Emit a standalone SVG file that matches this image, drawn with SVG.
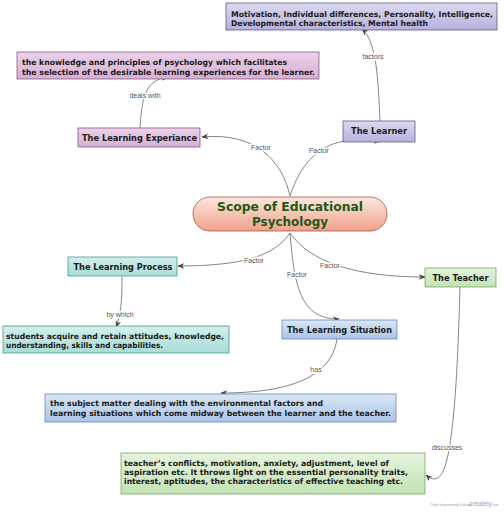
<svg xmlns="http://www.w3.org/2000/svg" width="504" height="512" viewBox="0 0 504 512">
<defs>
<linearGradient id="gPurple" x1="0" y1="0" x2="0" y2="1"><stop offset="0" stop-color="#dcdaf0"/><stop offset="1" stop-color="#b6b1dd"/></linearGradient>
<linearGradient id="gPink" x1="0" y1="0" x2="0" y2="1"><stop offset="0" stop-color="#ead2e8"/><stop offset="1" stop-color="#d6afd3"/></linearGradient>
<linearGradient id="gTeal" x1="0" y1="0" x2="0" y2="1"><stop offset="0" stop-color="#d3f0ec"/><stop offset="1" stop-color="#a9dcd6"/></linearGradient>
<linearGradient id="gBlue" x1="0" y1="0" x2="0" y2="1"><stop offset="0" stop-color="#dae7f6"/><stop offset="1" stop-color="#a9c4e8"/></linearGradient>
<linearGradient id="gGreen" x1="0" y1="0" x2="0" y2="1"><stop offset="0" stop-color="#e6f4de"/><stop offset="1" stop-color="#c2e2b3"/></linearGradient>
<linearGradient id="gCenter" x1="0" y1="0" x2="0" y2="1"><stop offset="0" stop-color="#fde6de"/><stop offset="1" stop-color="#f0a28c"/></linearGradient>
<marker id="arr" viewBox="0 0 10 10" refX="9" refY="5" markerWidth="7" markerHeight="7" markerUnits="userSpaceOnUse" orient="auto"><path d="M0,1 L10,5 L0,9 L3,5 Z" fill="#444"/></marker>
</defs>
<style>
.purple{fill:url(#gPurple);stroke:#5c5a8c;stroke-width:0.8}
.pink{fill:url(#gPink);stroke:#8c5a88;stroke-width:0.8}
.teal{fill:url(#gTeal);stroke:#4a9a94;stroke-width:0.8}
.blue{fill:url(#gBlue);stroke:#6a8ab8;stroke-width:0.8}
.green{fill:url(#gGreen);stroke:#7aa86a;stroke-width:0.8}
.title{font-family:"DejaVu Sans",Verdana,sans-serif;font-weight:bold;font-size:8.4px;fill:#1a1a1a;text-anchor:middle}
.body{font-family:"DejaVu Sans",Verdana,sans-serif;font-weight:bold;font-size:7.8px;fill:#1a1a1a}
.center{font-family:"DejaVu Sans",Verdana,sans-serif;font-weight:bold;font-size:12.5px;fill:#1e5a14;text-anchor:middle}
.conn{fill:none;stroke:#666;stroke-width:0.8;marker-end:url(#arr)}
.lbl{font-family:"Liberation Sans",Arial,sans-serif;font-size:7px;fill:#555;text-anchor:middle;stroke:#fff;stroke-width:3px;paint-order:stroke;stroke-linejoin:round}
</style>
<rect width="504" height="512" fill="#fff"/>
<g id="connectors">
<path class="conn" d="M290,196 C282,160 255,132 202,137"/>
<path class="conn" d="M290,196 C300,165 318,145 345,141 L380,141"/>
<path class="conn" d="M380,121 C378,80 377,42 362,29"/>
<path class="conn" d="M140,128 C142,95 146,80 168,77"/>
<path class="conn" d="M290,233 C275,255 245,266 178,266"/>
<path class="conn" d="M290,233 C294,280 298,320 339,319"/>
<path class="conn" d="M290,233 C310,262 355,277 425,277"/>
<path class="conn" d="M122,277 C122,300 121,315 116,327"/>
<path class="conn" d="M337,339 C332,372 300,393 221,393"/>
<path class="conn" d="M460,287 C458,360 455,420 448,455 C443,480 435,483 426,475"/>
<text class="lbl" x="261" y="150">Factor</text>
<text class="lbl" x="319" y="153">Factor</text>
<text class="lbl" x="373" y="59">factors</text>
<text class="lbl" x="145" y="98">deals with</text>
<text class="lbl" x="254" y="263">Factor</text>
<text class="lbl" x="297" y="277">Factor</text>
<text class="lbl" x="330" y="268">Factor</text>
<text class="lbl" x="120" y="317">by which</text>
<text class="lbl" x="316" y="372">has</text>
<text class="lbl" x="447" y="450">discusses</text>
</g>
<g id="node-factors">
<rect class="purple" x="226" y="3" width="271" height="27"/>
<text class="body" x="231" y="16.5" textLength="262" lengthAdjust="spacingAndGlyphs">Motivation, Individual differences, Personality, Intelligence,</text>
<text class="body" x="231" y="25.5" textLength="197" lengthAdjust="spacingAndGlyphs">Developmental characteristics, Mental health</text>
</g>
<g id="node-knowledge">
<rect class="pink" x="17" y="52" width="302" height="27"/>
<text class="body" x="22" y="65" textLength="265" lengthAdjust="spacingAndGlyphs">the knowledge and principles of psychology which facilitates</text>
<text class="body" x="22" y="75" textLength="293" lengthAdjust="spacingAndGlyphs">the selection of the desirable learning experiences for the learner.</text>
</g>
<g id="node-learning-experiance">
<rect class="pink" x="78" y="128" width="122" height="19"/>
<text class="title" x="139.5" y="140.5" textLength="115" lengthAdjust="spacingAndGlyphs">The Learning Experiance</text>
</g>
<g id="node-learner">
<rect class="purple" x="343" y="121" width="72" height="21"/>
<text class="title" x="379" y="134" textLength="56" lengthAdjust="spacingAndGlyphs">The Learner</text>
</g>
<g id="node-center">
<rect x="193" y="197" width="194" height="34" rx="17" ry="17" fill="url(#gCenter)" stroke="#b0504a" stroke-width="0.8"/>
<text class="center" x="290" y="211" textLength="146" lengthAdjust="spacingAndGlyphs">Scope of Educational</text>
<text class="center" x="290" y="226" textLength="76" lengthAdjust="spacingAndGlyphs">Psychology</text>
</g>
<g id="node-learning-process">
<rect class="teal" x="68" y="257" width="109" height="19"/>
<text class="title" x="123" y="269.5" textLength="99" lengthAdjust="spacingAndGlyphs">The Learning Process</text>
</g>
<g id="node-students">
<rect class="teal" x="3" y="326" width="226" height="27"/>
<text class="body" x="6" y="338.5" textLength="218" lengthAdjust="spacingAndGlyphs">students acquire and retain attitudes, knowledge,</text>
<text class="body" x="6" y="348" textLength="157" lengthAdjust="spacingAndGlyphs">understanding, skills and capabilities.</text>
</g>
<g id="node-teacher">
<rect class="green" x="425" y="268" width="71" height="19"/>
<text class="title" x="460.5" y="280.5" textLength="56" lengthAdjust="spacingAndGlyphs">The Teacher</text>
</g>
<g id="node-learning-situation">
<rect class="blue" x="282" y="320" width="115" height="19"/>
<text class="title" x="339.5" y="332.5" textLength="105" lengthAdjust="spacingAndGlyphs">The Learning Situation</text>
</g>
<g id="node-subject">
<rect class="blue" x="45" y="394" width="351" height="28"/>
<text class="body" x="50" y="406" textLength="273" lengthAdjust="spacingAndGlyphs">the subject matter dealing with the environmental factors and</text>
<text class="body" x="50" y="416" textLength="341" lengthAdjust="spacingAndGlyphs">learning situations which come midway between the learner and the teacher.</text>
</g>
<g id="node-conflicts">
<rect class="green" x="121" y="453" width="304" height="41"/>
<text class="body" x="124" y="465.5" textLength="265" lengthAdjust="spacingAndGlyphs">teacher’s conflicts, motivation, anxiety, adjustment, level of</text>
<text class="body" x="124" y="474.5" textLength="284" lengthAdjust="spacingAndGlyphs">aspiration etc. It throws light on the essential personality traits,</text>
<text class="body" x="124" y="483.5" textLength="279" lengthAdjust="spacingAndGlyphs">interest, aptitudes, the characteristics of effective teaching etc.</text>
</g>
<g id="watermark">
<text x="430" y="506" font-family="Liberation Sans,Arial,sans-serif" font-size="3.2" fill="#999">Online diagramming &amp; design</text>
<text x="469" y="506" font-family="Liberation Sans,Arial,sans-serif" font-size="6.5" fill="#8fa3bf">creately<tspan font-size="3" fill="#999">.com</tspan></text>
</g>
</svg>
